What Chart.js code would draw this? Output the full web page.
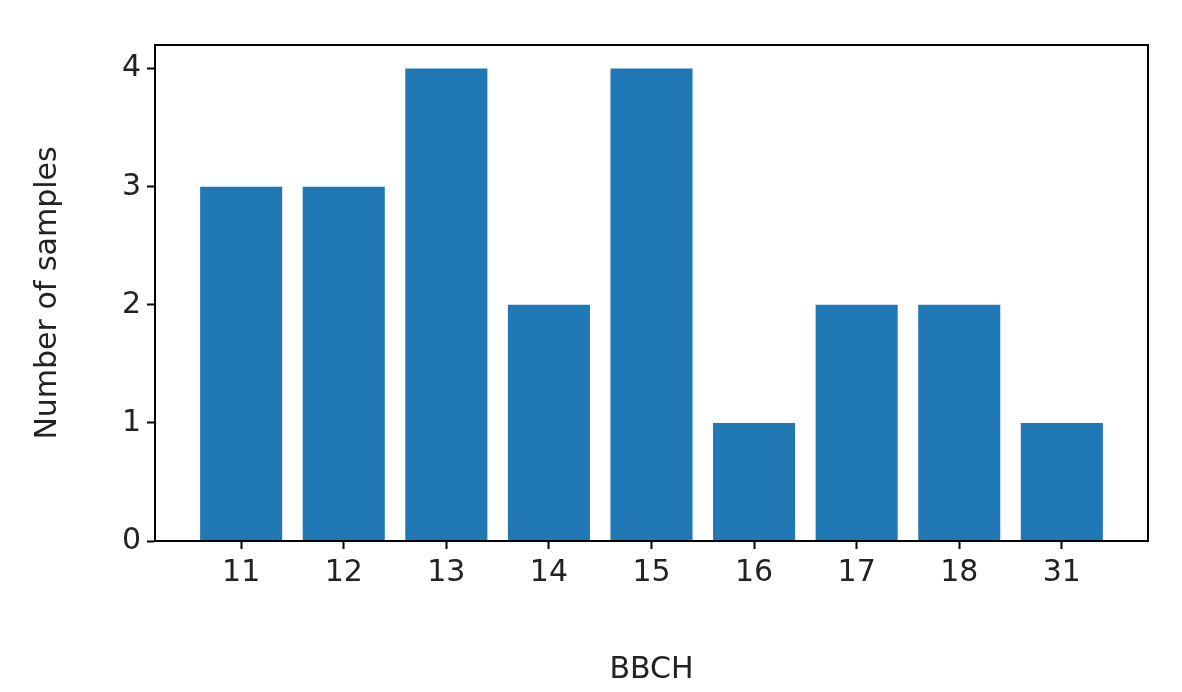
<!DOCTYPE html>
<html><head><meta charset="utf-8">
<script src="https://cdn.jsdelivr.net/npm/chart.js@4"></script>
<style>html,body{margin:0;padding:0;background:#fff}#w{width:1182px;height:692px}</style>
</head><body><div id="w"><canvas id="c"></canvas></div>
<script>
const categories = ["11","12","13","14","15","16","17","18","31"];
const counts = [3,3,4,2,4,1,2,2,1];
const yTicks = [0,1,2,3,4];

const frame = {id:'frame',afterDraw(ch){const a=ch.chartArea,c=ch.ctx;c.save();c.strokeStyle='#000';c.lineWidth=2;c.strokeRect(a.left,a.top,a.right-a.left,a.bottom-a.top);c.restore();}};
const font = {family:'DejaVu Sans',size:30};
new Chart(document.getElementById('c'),{
  type:'bar',
  data:{datasets:[{data:counts.map((v,i)=>({x:i,y:v})),backgroundColor:'#1f77b4',barPercentage:0.8,categoryPercentage:1}]},
  options:{
    responsive:true,maintainAspectRatio:false,animation:false,
    layout:{padding:{top:45,right:34,left:0,bottom:0}},
    plugins:{legend:{display:false},tooltip:{enabled:false}},
    scales:{
      x:{type:'linear',min:-0.84,max:8.84,offset:false,
        afterBuildTicks:s=>{s.ticks=categories.map((_,i)=>({value:i}));},
        afterFit:s=>{s.height=151;},
        ticks:{font,color:'#222',padding:6,maxRotation:0,autoSkip:false,callback:v=>categories[v]},
        grid:{offset:false,drawOnChartArea:false,drawTicks:true,tickLength:8,color:'#000',tickWidth:2},
        border:{color:'#000',width:2},
        title:{display:true,text:'BBCH',font,color:'#222',padding:{top:4}}},
      y:{min:0,max:4.2,
        afterBuildTicks:s=>{s.ticks=yTicks.map(v=>({value:v}));},
        afterFit:s=>{s.width=155;},
        ticks:{font,color:'#222',padding:6,autoSkip:false},
        grid:{drawOnChartArea:false,drawTicks:true,tickLength:8,color:'#000',tickWidth:2},
        border:{color:'#000',width:2},
        title:{display:true,text:'Number of samples',font,color:'#222',padding:{top:30,bottom:18}}}
    }
  },
  plugins:[frame]
});
</script></body></html>
